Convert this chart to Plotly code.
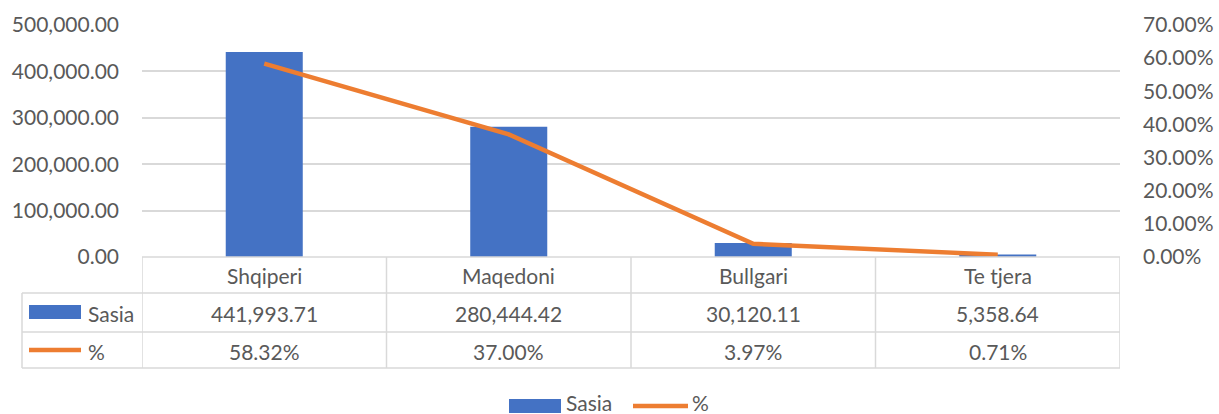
import plotly.graph_objects as go

categories = ["Shqiperi", "Maqedoni", "Bullgari", "Te tjera"]
sasia = [441993.71, 280444.42, 30120.11, 5358.64]
pct = [0.5832, 0.3700, 0.0397, 0.0071]
series_names = ["Sasia", "%"]

BLUE = "#4472C4"
ORANGE = "#ED7D31"
GRID = "#D9D9D9"
TXT = "#595959"
FONT = "Lato"
FS = 21

W, H = 1219, 414
L, R, T, B = 142, 1120, 25, 257
PW, PH = R - L, B - T


def px(x):
    return (x - L) / PW


def py(y):
    return (B - y) / PH


def tfont():
    return dict(family=FONT, size=FS, color=TXT)


fig = go.Figure()
fig.add_trace(go.Bar(x=categories, y=sasia, name=series_names[0], marker_color=BLUE,
                     yaxis="y", showlegend=False))
fig.add_trace(go.Scatter(x=categories, y=pct, name=series_names[1], mode="lines",
                         line=dict(color=ORANGE, width=4.5), yaxis="y2", showlegend=False))

shapes = []
annotations = []
line_style = dict(color=GRID, width=1.5)

# table horizontal lines
for yy in [293, 332, 368]:
    shapes.append(dict(type="line", xref="paper", yref="paper", x0=px(22), x1=1,
                       y0=py(yy), y1=py(yy), line=line_style, layer="above"))
shapes.append(dict(type="line", xref="paper", yref="paper", x0=0, x1=1,
                   y0=0, y1=0, line=line_style, layer="above"))
# vertical lines at category boundaries
n = len(categories)
for i in range(n + 1):
    shapes.append(dict(type="line", xref="x", yref="paper", x0=i - 0.5, x1=i - 0.5,
                       y0=0, y1=py(368), line=line_style, layer="above"))
shapes.append(dict(type="line", xref="paper", yref="paper", x0=px(22), x1=px(22),
                   y0=py(293), y1=py(368), line=line_style, layer="above"))

# table text
for i, c in enumerate(categories):
    annotations.append(dict(x=i, xref="x", y=py(275), yref="paper", text=c,
                            xanchor="center", yanchor="middle",
                            showarrow=False, font=tfont()))
    annotations.append(dict(x=i, xref="x", y=py(313), yref="paper", text=f"{sasia[i]:,.2f}",
                            xanchor="center", yanchor="middle",
                            showarrow=False, font=tfont()))
    annotations.append(dict(x=i, xref="x", y=py(351), yref="paper", text=f"{pct[i]*100:.2f}%",
                            xanchor="center", yanchor="middle",
                            showarrow=False, font=tfont()))

# table row keys
shapes.append(dict(type="rect", xref="paper", yref="paper", x0=px(29), x1=px(81),
                   y0=py(319), y1=py(305), fillcolor=BLUE, line=dict(width=0)))
shapes.append(dict(type="line", xref="paper", yref="paper", x0=px(29), x1=px(81),
                   y0=py(350), y1=py(350), line=dict(color=ORANGE, width=4.5)))
annotations.append(dict(x=px(86), xref="paper", y=py(313), yref="paper", text=series_names[0],
                        xanchor="left", yanchor="middle", showarrow=False, font=tfont()))
annotations.append(dict(x=px(86), xref="paper", y=py(351), yref="paper", text=series_names[1],
                        xanchor="left", yanchor="middle", showarrow=False, font=tfont()))

# bottom legend
shapes.append(dict(type="rect", xref="paper", yref="paper", x0=px(509), x1=px(561),
                   y0=py(413), y1=py(399), fillcolor=BLUE, line=dict(width=0)))
shapes.append(dict(type="line", xref="paper", yref="paper", x0=px(633), x1=px(688),
                   y0=py(406), y1=py(406), line=dict(color=ORANGE, width=4.5)))
annotations.append(dict(x=px(565), xref="paper", y=py(402), yref="paper", text=series_names[0],
                        xanchor="left", yanchor="middle", showarrow=False, font=tfont(),
                        borderpad=0))
annotations.append(dict(x=px(691), xref="paper", y=py(402), yref="paper", text=series_names[1],
                        xanchor="left", yanchor="middle", showarrow=False, font=tfont(),
                        borderpad=0))

fig.update_layout(
    template="none",
    width=W, height=H, autosize=False,
    margin=dict(l=L, r=W - R, t=T, b=H - B, pad=0, autoexpand=False),
    paper_bgcolor="white", plot_bgcolor="white",
    bargap=0.685,
    xaxis=dict(range=[-0.5, n - 0.5], showticklabels=False, showgrid=False,
               zeroline=False, showline=False, fixedrange=True, automargin=False),
    yaxis=dict(range=[0, 500000], dtick=100000, tickformat=",.2f", automargin=False,
               showgrid=True, gridcolor=GRID, gridwidth=1.5, zeroline=False,
               showline=False, ticks="",
               tickfont=tfont(), ticklabelstandoff=22),
    yaxis2=dict(range=[0, 0.7], dtick=0.1, tickformat=".2%", overlaying="y", side="right",
                showgrid=False, zeroline=False, automargin=False, showline=False, ticks="",
                tickfont=tfont(), ticklabelstandoff=22),
    shapes=shapes, annotations=annotations,
    showlegend=False,
)

post = ("document.documentElement.style.overflow='hidden';"
        "document.body.style.margin='0';document.body.style.padding='0';"
        "document.body.style.overflow='hidden';"
        "var gd=document.getElementById('{plot_id}');"
        "Plotly.relayout(gd,{width:%d,height:%d});" % (W, H))

fig.write_html("out.html", config={"displayModeBar": False, "responsive": False},
               post_script=post)
